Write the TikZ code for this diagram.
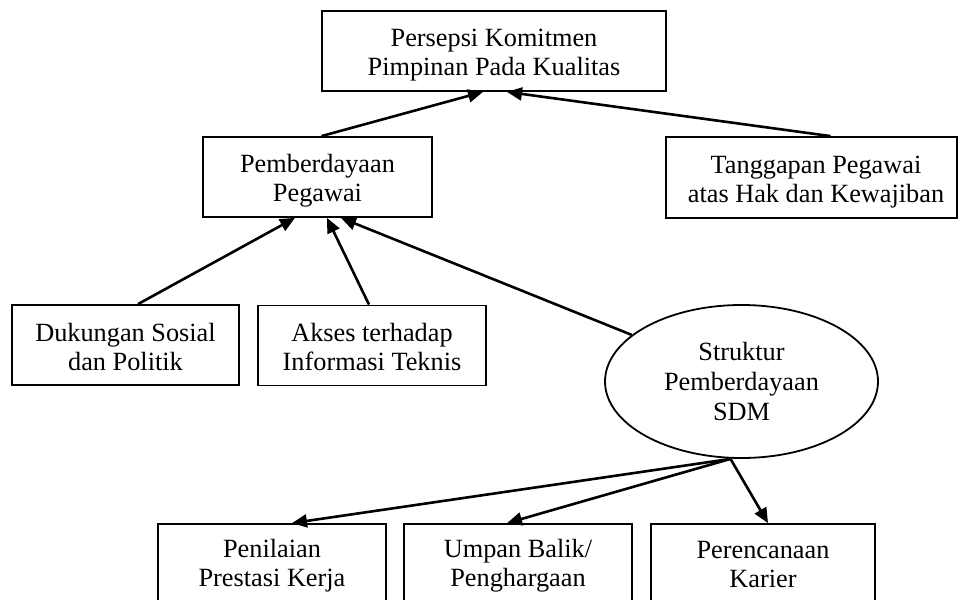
\documentclass[tikz,border=0pt]{standalone}
\usepackage{fontspec}
\setmainfont{Liberation Serif}
\usetikzlibrary{arrows.meta,shapes.geometric}
\newcommand{\twoln}[3][26pt]{\rule{0pt}{#1}#2\\#3\rule[-5pt]{0pt}{5pt}}
\begin{document}
\begin{tikzpicture}[x=1pt,y=-1pt,
  box/.style={draw,line width=1.8pt,rectangle,align=center,inner sep=0pt,
    font=\fontsize{26.3}{29}\selectfont,minimum height=80pt},
  ell/.style={draw,line width=1.8pt,ellipse,align=center,inner sep=0pt,
    font=\fontsize{26.3}{30}\selectfont},
  arr/.style={line width=2.6pt,-{Triangle[length=15pt,width=13pt]}}]
\useasboundingbox (0,0) rectangle (960,599);
\clip (0,0) rectangle (960,599);
\node[box,minimum width=344pt] (top) at (494,51) {\twoln{Persepsi Komitmen}{Pimpinan Pada Kualitas}};
\node[box,minimum width=229pt] (pem) at (317.5,177) {\twoln{Pemberdayaan}{Pegawai}};
\node[box,minimum width=291pt,minimum height=81pt] (tang) at (811.5,177.5) {\twoln{\hspace*{9pt}Tanggapan Pegawai}{\hspace*{9pt}atas Hak dan Kewajiban}};
\node[box,minimum width=227pt] (duk) at (125.5,345) {\twoln{Dukungan Sosial}{dan Politik}};
\node[box,minimum width=228pt] (aks) at (372,345.5) {\twoln{Akses terhadap}{Informasi Teknis}};
\node[ell,minimum width=273pt,minimum height=153pt] (ell) at (741.5,381.5) {\rule{0pt}{22pt}Struktur\\Pemberdayaan\\SDM\rule[-5pt]{0pt}{5pt}};
\node[box,minimum width=228pt] (pen) at (272,564) {\twoln[22pt]{Penilaian}{Prestasi Kerja}};
\node[box,minimum width=228pt] (ump) at (518,564) {\twoln[22pt]{Umpan Balik/}{Penghargaan}};
\node[box,minimum width=224pt] (per) at (763,564) {\twoln[22pt]{Perencanaan}{Karier}};
\draw[arr] ([xshift=4pt]pem.north) -- ([xshift=-11pt]top.south);
\draw[arr] ([xshift=19pt]tang.north) -- ([xshift=13pt]top.south);
\draw[arr] ([xshift=12.5pt]duk.north) -- ([xshift=-22.5pt]pem.south);
\draw[arr] ([xshift=-3pt]aks.north) -- ([xshift=9.5pt]pem.south);
\draw[arr] (ell.157) -- ([xshift=23.5pt]pem.south);
\draw[arr] ([xshift=-11pt]ell.south) -- ([xshift=20pt]pen.north);
\draw[arr] ([xshift=-11pt]ell.south) -- ([xshift=-11pt]ump.north);
\draw[arr] ([xshift=-11pt]ell.south) -- ([xshift=5pt]per.north);
\end{tikzpicture}
\end{document}
